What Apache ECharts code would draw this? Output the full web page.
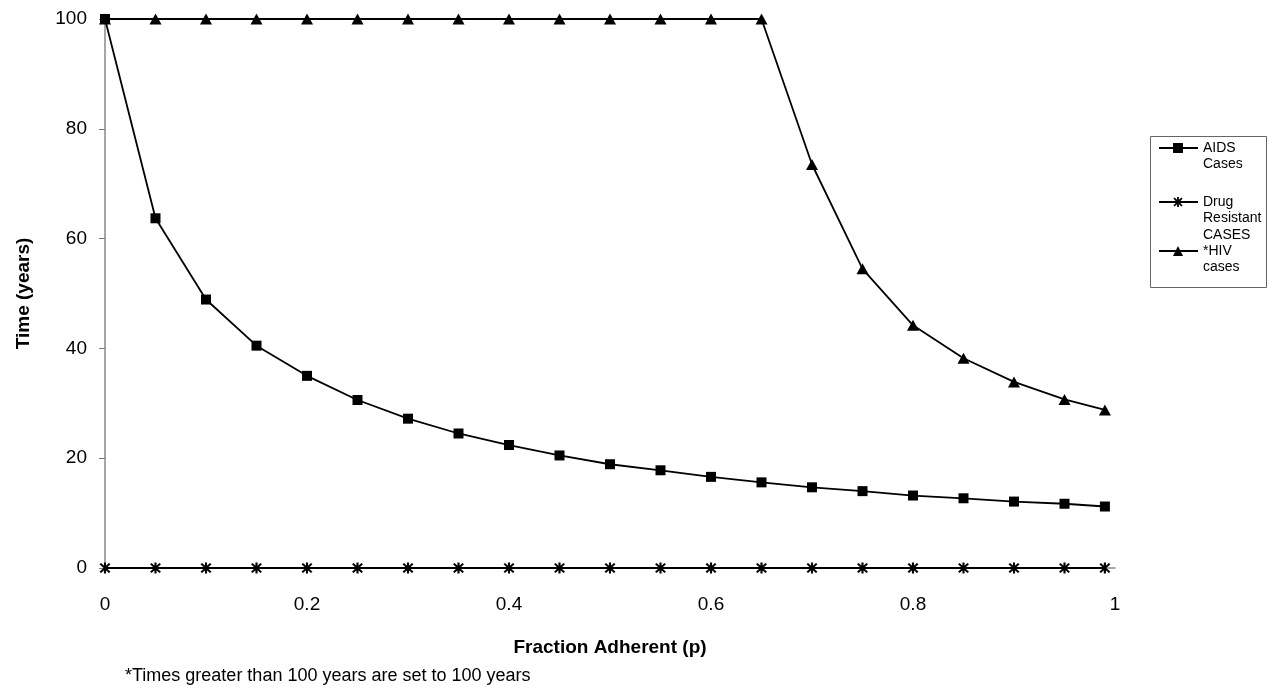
<!DOCTYPE html>
<html>
<head>
<meta charset="utf-8">
<script src="https://cdn.jsdelivr.net/npm/echarts@6/dist/echarts.min.js"></script>
<style>
  html, body { margin: 0; padding: 0; background: #fff; }
  #chart { width: 1271px; height: 691px; }
</style>
</head>
<body>
<div id="chart"></div>
<script>
// fraction adherent
const pValues = [0, 0.05, 0.1, 0.15, 0.2, 0.25, 0.3, 0.35, 0.4, 0.45, 0.5,
  0.55, 0.6, 0.65, 0.7, 0.75, 0.8, 0.85, 0.9, 0.95, 0.99];

// time (years)
const aidsCases = [100, 63.7, 48.9, 40.5, 35, 30.6, 27.2, 24.5, 22.4, 20.5, 18.9,
  17.8, 16.6, 15.6, 14.7, 14, 13.2, 12.7, 12.1, 11.7, 11.2];
const drugResistant = [0, 0, 0, 0, 0, 0, 0, 0, 0, 0, 0,
  0, 0, 0, 0, 0, 0, 0, 0, 0, 0];
const hivCases = [100, 100, 100, 100, 100, 100, 100, 100, 100, 100, 100,
  100, 100, 100, 73.5, 54.5, 44.2, 38.2, 33.9, 30.7, 28.8];

const xTicks = [0, 0.2, 0.4, 0.6, 0.8, 1];

// legend entries, text broken the way the original box wraps it
const legendNames = ['AIDS Cases', 'Drug Resistant CASES', '*HIV cases'];
const legendLines = [['AIDS', 'Cases'], ['Drug', 'Resistant', 'CASES'], ['*HIV', 'cases']];

// marker shapes as polygons in a 10x10 box
const squarePoly = [[[0, 0], [10, 0], [10, 10], [0, 10]]];
const trianglePoly = [[[5, 0], [10, 10], [0, 10]]];
const asteriskPoly = [
  [[4.1, 0], [5.9, 0], [5.9, 10], [4.1, 10]],
  [[0.4, 1.7], [1.7, 0.4], [9.6, 8.3], [8.3, 9.6]],
  [[8.3, 0.4], [9.6, 1.7], [1.7, 9.6], [0.4, 8.3]]
];
const polyToPath = (polys) => 'path://' + polys.map((p) =>
  'M' + p.map((pt) => pt.join(' ')).join(' L') + ' Z').join(' ');
const markerPolys = [squarePoly, asteriskPoly, trianglePoly];

const pair = (ys) => pValues.map((x, i) => [x, ys[i]]);
const font = 'Liberation Sans, Arial, sans-serif';

// hand-made legend box so each marker sits on the first text line
function buildLegend() {
  const left = 1150, top = 136, width = 116, height = 151;
  const lineH = 16.5;
  const firstLineY = [148, 202, 251];
  const items = [{
    type: 'rect',
    shape: { x: left + 0.5, y: top + 0.5, width: width, height: height },
    style: { fill: '#fff', stroke: '#666', lineWidth: 1 }
  }];
  legendLines.forEach((lines, i) => {
    const y = firstLineY[i];
    items.push({
      type: 'line',
      shape: { x1: 1159, y1: y, x2: 1198, y2: y },
      style: { stroke: '#000', lineWidth: 2 }
    });
    markerPolys[i].forEach((poly) => {
      items.push({
        type: 'polygon',
        shape: { points: poly.map((pt) => [pt[0] + 1173, pt[1] + y - 5]) },
        style: { fill: '#000' }
      });
    });
    lines.forEach((t, j) => {
      items.push({
        type: 'text',
        x: 1203,
        y: y + j * lineH,
        style: {
          text: t, fontSize: 14, fontFamily: font, fill: '#000',
          verticalAlign: 'middle', align: 'left'
        }
      });
    });
  });
  return items;
}

const chart = echarts.init(document.getElementById('chart'));

const lineStyle = { color: '#000', width: 1.8 };

chart.setOption({
  animation: false,
  textStyle: { fontFamily: font, color: '#000' },
  grid: { left: 105, right: 156, top: 19, bottom: 123 },
  xAxis: {
    type: 'value',
    min: 0,
    max: 1,
    interval: 0.2,
    name: 'Fraction Adherent (p)',
    nameLocation: 'middle',
    nameGap: 70,
    nameTextStyle: { fontSize: 19, fontWeight: 'bold', color: '#000' },
    axisLine: { lineStyle: { color: '#888', width: 1.5 } },
    axisTick: { show: false },
    axisLabel: {
      fontSize: 19, color: '#000', margin: 27,
      formatter: (v) => xTicks.indexOf(v) >= 0 ? String(+v.toFixed(1)) : ''
    },
    splitLine: { show: false }
  },
  yAxis: {
    type: 'value',
    min: 0,
    max: 100,
    interval: 20,
    name: 'Time (years)',
    nameLocation: 'middle',
    nameGap: 72,
    nameTextStyle: { fontSize: 19, fontWeight: 'bold', color: '#000' },
    axisLine: { show: true, lineStyle: { color: '#888', width: 1.5 } },
    axisTick: { show: true, length: 6, inside: false, lineStyle: { color: '#777' } },
    axisLabel: { fontSize: 19, color: '#000', margin: 18 },
    splitLine: { show: false }
  },
  graphic: buildLegend().concat([{
    type: 'text',
    left: 125,
    top: 667,
    style: {
      text: '*Times greater than 100 years are set to 100 years',
      fontSize: 18,
      fontFamily: font,
      fill: '#000'
    }
  }]),
  series: [
    {
      name: legendNames[0],
      type: 'line',
      data: pair(aidsCases),
      symbol: polyToPath(squarePoly),
      symbolSize: 10,
      itemStyle: { color: '#000' },
      lineStyle: lineStyle,
      z: 4
    },
    {
      name: legendNames[1],
      type: 'line',
      data: pair(drugResistant),
      symbol: polyToPath(asteriskPoly),
      symbolSize: 11,
      itemStyle: { color: '#000' },
      lineStyle: lineStyle,
      z: 2
    },
    {
      name: legendNames[2],
      type: 'line',
      data: pair(hivCases),
      symbol: polyToPath(trianglePoly),
      symbolSize: [12, 11],
      itemStyle: { color: '#000' },
      lineStyle: lineStyle,
      z: 3
    }
  ]
});
</script>
</body>
</html>
